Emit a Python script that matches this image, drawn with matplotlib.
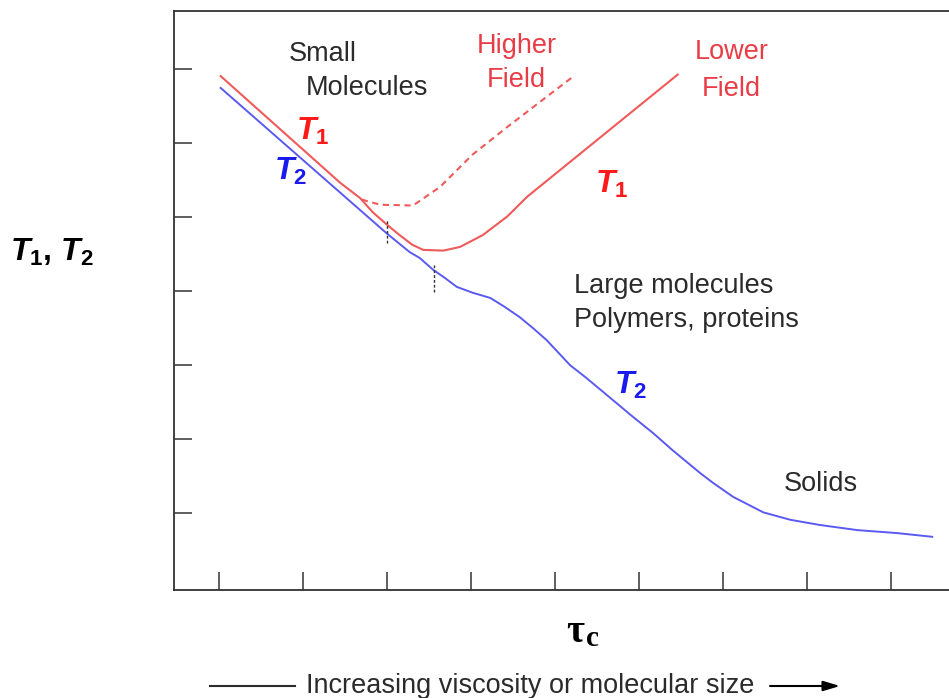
import matplotlib
matplotlib.use("Agg")
import matplotlib.pyplot as plt

plt.rcParams['font.family'] = ['Liberation Sans', 'DejaVu Sans']
plt.rcParams['mathtext.fontset'] = 'custom'
plt.rcParams['mathtext.it'] = 'Liberation Sans:bold:italic'
plt.rcParams['mathtext.rm'] = 'Liberation Sans:bold'
plt.rcParams['mathtext.bf'] = 'Liberation Sans:bold'

# relaxation times vs correlation time (arbitrary log units)
t1_low_x = [1.02, 2.44, 2.68, 2.83, 3.00, 3.15, 3.30, 3.43, 3.67, 3.87, 4.14,
            4.43, 4.67, 6.46]
t1_low_y = [6.91, 5.47, 5.26, 5.07, 4.90, 4.76, 4.63, 4.56, 4.55, 4.60, 4.76,
            5.01, 5.28, 6.93]

t1_high_x = [2.70, 2.92, 3.31, 3.63, 4.02, 4.43, 4.82, 5.20]
t1_high_y = [5.24, 5.17, 5.16, 5.41, 5.85, 6.22, 6.56, 6.89]

t2_x = [1.02, 3.00, 3.27, 3.39, 3.55, 3.69, 3.83, 4.02, 4.23, 4.40, 4.58,
        4.74, 4.90, 5.04, 5.18, 5.36, 5.54, 5.93, 6.17, 6.40, 6.73,
        6.88, 7.12, 7.48, 7.80, 8.15, 8.60, 9.07, 9.49]
t2_y = [6.75, 4.78, 4.53, 4.45, 4.29, 4.18, 4.06, 3.98, 3.91, 3.79, 3.65,
        3.50, 3.34, 3.17, 3.00, 2.84, 2.67, 2.30, 2.08, 1.85, 1.54,
        1.41, 1.22, 1.01, 0.91, 0.84, 0.77, 0.73, 0.68]

# minima markers (x, y_from, y_to)
mark_x = [3.00, 3.56]
mark_lo = [4.65, 3.99]
mark_hi = [4.97, 4.38]

x_ticks = [1, 2, 3, 4, 5, 6, 7, 8, 9]
y_ticks = [1, 2, 3, 4, 5, 6, 7]

red_line = '#f05a5a'
blue_line = '#5a5af2'
red_text = '#e83c46'
dark = '#2b2b2b'

fig = plt.figure(figsize=(9.49, 6.98), dpi=100)
ax = fig.add_axes([0.1833, 0.1547, 0.8167, 0.8295])

ax.plot(t1_low_x, t1_low_y, color=red_line, lw=1.5)
ax.plot(t1_high_x, t1_high_y, color=red_line, lw=1.5, ls=(0, (3, 2.2)))
ax.plot(t2_x, t2_y, color=blue_line, lw=1.4)
ax.vlines(mark_x, mark_lo, mark_hi, colors='#333333', lw=1.0, linestyles=(0, (2, 1.5)))

ax.set_xlim(0.464, 9.69)
ax.set_ylim(-0.04, 7.79)
ax.set_xticks(x_ticks)
ax.set_yticks(y_ticks)
ax.tick_params(direction='in', length=13, width=1.1, color='#333333',
               labelbottom=False, labelleft=False)
ax.spines['right'].set_visible(False)
for s in ['left', 'top', 'bottom']:
    ax.spines[s].set_color('#333333')
    ax.spines[s].set_linewidth(1.3)

fs = 19.5
ax.text(2.24, 7.21, 'Small', fontsize=fs, color=dark, ha='center', va='center')
ax.text(2.76, 6.75, 'Molecules', fontsize=fs, color=dark, ha='center', va='center')
ax.text(4.54, 7.32, 'Higher', fontsize=fs, color=red_text, ha='center', va='center')
ax.text(4.54, 6.86, 'Field', fontsize=fs, color=red_text, ha='center', va='center')
ax.text(7.10, 7.24, 'Lower', fontsize=fs, color=red_text, ha='center', va='center')
ax.text(7.10, 6.74, 'Field', fontsize=fs, color=red_text, ha='center', va='center')
ax.text(5.23, 4.07, 'Large molecules', fontsize=fs, color=dark, ha='left', va='center')
ax.text(5.23, 3.61, 'Polymers, proteins', fontsize=fs, color=dark, ha='left', va='center')
ax.text(8.17, 1.40, 'Solids', fontsize=fs, color=dark, ha='center', va='center')

ts = 23
ax.text(2.12, 6.16, r'$T_1$', fontsize=ts, color='#ff1a1a', ha='center', va='center')
ax.text(1.85, 5.62, r'$T_2$', fontsize=ts, color='#1a1aee', ha='center', va='center')
ax.text(5.67, 5.44, r'$T_1$', fontsize=ts, color='#ff1a1a', ha='center', va='center')
ax.text(5.90, 2.73, r'$T_2$', fontsize=ts, color='#1a1aee', ha='center', va='center')

# axis titles
fig.text(52 / 949, 1 - 252 / 698, r'$T_1$, $T_2$', fontsize=ts, color='black',
         fontweight='bold', ha='center', va='center')
fig.text(575 / 949, 1 - 632 / 698, 'τ', fontsize=28, family='Liberation Serif',
         fontweight='bold', ha='center', va='center')
fig.text(592 / 949, 1 - 639 / 698, 'c', fontsize=21, family='Liberation Serif',
         fontweight='bold', ha='center', va='center')

fig.text(530 / 949, 1 - 686 / 698, 'Increasing viscosity or molecular size',
         fontsize=19.5, color=dark, ha='center', va='center')
fig.add_artist(plt.Line2D([210 / 949, 295 / 949], [1 - 686 / 698] * 2,
                          transform=fig.transFigure, color=dark, lw=1.5))
ax.annotate('', xy=(840 / 949, 1 - 686 / 698), xytext=(770 / 949, 1 - 686 / 698),
            xycoords='figure fraction', textcoords='figure fraction',
            arrowprops=dict(arrowstyle='-|>,head_length=1.0,head_width=0.3',
                            color='black', lw=1.5, shrinkA=0, shrinkB=0))

fig.savefig('out.png', dpi=100)
